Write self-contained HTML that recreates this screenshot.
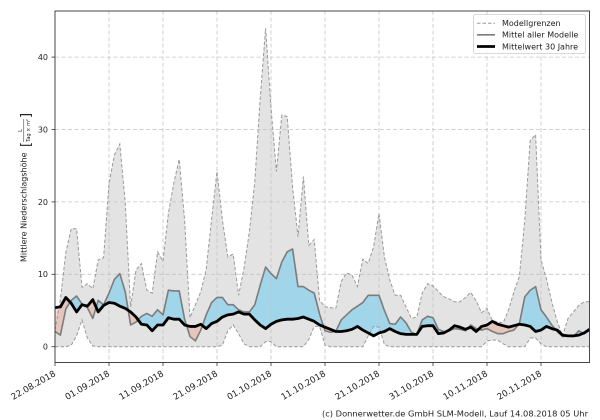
<!DOCTYPE html>
<html><head><meta charset="utf-8"><style>
html,body{margin:0;padding:0;background:#fff;}
svg{display:block;font-family:"DejaVu Sans","Liberation Sans",sans-serif;}
</style></head><body>
<svg width="600" height="420" viewBox="0 0 600 420" xmlns="http://www.w3.org/2000/svg">
<defs>
<clipPath id="ax"><rect x="55" y="11" width="534.6" height="351.5"/></clipPath>
<clipPath id="above"><polygon points="0,5.4 1,5.5 2,6.8 3,6 4,4.8 5,5.8 6,5.6 7,6.5 8,4.8 9,5.7 10,6.1 11,6 12,5.6 13,5.3 14,4.8 15,4.1 16,3.1 17,3 18,2.2 19,3 20,3 21,4 22,3.8 23,3.8 24,3 25,2.8 26,2.8 27,3.1 28,2.5 29,3.2 30,3.5 31,4.1 32,4.4 33,4.5 34,4.8 35,4.5 36,4.5 37,3.7 38,3 39,2.5 40,3.1 41,3.5 42,3.7 43,3.8 44,3.8 45,3.9 46,4.1 47,3.8 48,3.5 49,3 50,2.7 51,2.4 52,2.1 53,2.1 54,2.2 55,2.4 56,2.8 57,2.3 58,1.9 59,1.5 60,1.9 61,2.1 62,2.5 63,2.1 64,1.8 65,1.7 66,1.7 67,1.7 68,2.8 69,2.9 70,2.9 71,1.8 72,1.9 73,2.3 74,2.9 75,2.7 76,2.4 77,2.7 78,2.1 79,2.8 80,3 81,3.5 82,3.1 83,2.9 84,2.7 85,2.9 86,3.1 87,3 88,2.8 89,2.1 90,2.3 91,2.8 92,2.5 93,2.3 94,1.6 95,1.5 96,1.5 97,1.6 98,1.9 99,2.4 99,60 0,60"/></clipPath>
<clipPath id="below"><polygon points="0,5.4 1,5.5 2,6.8 3,6 4,4.8 5,5.8 6,5.6 7,6.5 8,4.8 9,5.7 10,6.1 11,6 12,5.6 13,5.3 14,4.8 15,4.1 16,3.1 17,3 18,2.2 19,3 20,3 21,4 22,3.8 23,3.8 24,3 25,2.8 26,2.8 27,3.1 28,2.5 29,3.2 30,3.5 31,4.1 32,4.4 33,4.5 34,4.8 35,4.5 36,4.5 37,3.7 38,3 39,2.5 40,3.1 41,3.5 42,3.7 43,3.8 44,3.8 45,3.9 46,4.1 47,3.8 48,3.5 49,3 50,2.7 51,2.4 52,2.1 53,2.1 54,2.2 55,2.4 56,2.8 57,2.3 58,1.9 59,1.5 60,1.9 61,2.1 62,2.5 63,2.1 64,1.8 65,1.7 66,1.7 67,1.7 68,2.8 69,2.9 70,2.9 71,1.8 72,1.9 73,2.3 74,2.9 75,2.7 76,2.4 77,2.7 78,2.1 79,2.8 80,3 81,3.5 82,3.1 83,2.9 84,2.7 85,2.9 86,3.1 87,3 88,2.8 89,2.1 90,2.3 91,2.8 92,2.5 93,2.3 94,1.6 95,1.5 96,1.5 97,1.6 98,1.9 99,2.4 99,-10 0,-10"/></clipPath>
</defs>

<g clip-path="url(#ax)">
<g transform="translate(55,346.7) scale(5.4,-7.24)">
<polygon fill="#e3e3e3" points="0,2.3 1,6.5 2,13 3,16.3 4,16.3 5,8.2 6,8.7 7,8 8,12 9,12.3 10,22.5 11,26.5 12,28 13,20 14,5.5 15,10.6 16,11.5 17,7.8 18,7.4 19,13.1 20,11.8 21,18.4 22,22.6 23,25.9 24,17.5 25,4 26,5.8 27,7.6 28,10.7 29,17.6 30,24.2 31,17.5 32,12.4 33,12.8 34,7.1 35,10.8 36,15.9 37,22.8 38,34.3 39,44 40,33 41,24.2 42,32 43,31.8 44,22 45,15.2 46,23.5 47,14 48,14.8 49,6.4 50,5.5 51,5.4 52,5.3 53,9 54,10.2 55,9.9 56,8.3 57,12.1 58,11.5 59,13.8 60,18.4 61,12.4 62,9.2 63,7.1 64,7.1 65,5.5 66,3.9 67,4.1 68,7.4 69,8.7 70,8.4 71,7.6 72,6.9 73,6.6 74,6.2 75,6.2 76,6.8 77,7.5 78,6.3 79,4.7 80,5.3 81,3.6 82,3.4 83,3.3 84,5.1 85,7.6 86,9.7 87,17.5 88,28.5 89,29.3 90,12 91,9.4 92,6.2 93,3.5 94,1.5 95,3.9 96,4.8 97,5.7 98,6.2 99,6.2 99,0 91,0 90,0.4 89,1.2 88,1.2 87,0 84,0 83,0.4 82,0.9 81,0.9 80,0.8 79,0 62,0 61,0.3 60,2.7 59,2.8 58,1.5 57,0 51,0 50,0.2 49,2.8 48,2.8 47,1 46,0 41,0 40,0.7 39,0.7 38,0 36,0 35,0.4 34,1.8 33,3 32,2.2 31,0.2 30,0 8,0 7,0.1 6,1.2 5,3.7 4,1.5 3,0.2 2,0 0,0"/>
<polygon clip-path="url(#above)" fill="rgba(100,200,240,0.52)" points="0,2.1 1,1.6 2,5.2 3,6.4 4,7 5,5.9 6,5.4 7,3.9 8,6.4 9,5.8 10,7.4 11,9.3 12,10.1 13,7.6 14,3 15,3.4 16,4.2 17,4.6 18,4.2 19,5.1 20,4.4 21,7.8 22,7.7 23,7.7 24,3.8 25,1.4 26,0.8 27,2.3 28,4.4 29,6.1 30,6.8 31,6.8 32,5.8 33,5.8 34,5.1 35,4.8 36,4.8 37,5.8 38,8.5 39,11 40,10.1 41,9.4 42,11.7 43,13.1 44,13.5 45,8.3 46,8.3 47,7.8 48,7.4 49,4.5 50,2.2 51,2 52,2.1 53,3.7 54,4.4 55,5.1 56,5.6 57,6.1 58,7.1 59,7.1 60,7.1 61,5 62,3.2 63,3.1 64,4.1 65,3.3 66,2 67,1.7 68,3.7 69,4.2 70,4 71,2.4 72,2.1 73,2.2 74,2.5 75,2.4 76,2.2 77,3 78,2.5 79,2.3 80,2.5 81,2.1 82,1.8 83,1.8 84,2.1 85,2.3 86,3.2 87,6.9 88,7.8 89,8.3 90,5.1 91,4.1 92,3 93,2.1 94,1.4 95,1.5 96,1.4 97,2.2 98,1.8 99,2.3 99,2.4 98,1.9 97,1.6 96,1.5 95,1.5 94,1.6 93,2.3 92,2.5 91,2.8 90,2.3 89,2.1 88,2.8 87,3 86,3.1 85,2.9 84,2.7 83,2.9 82,3.1 81,3.5 80,3 79,2.8 78,2.1 77,2.7 76,2.4 75,2.7 74,2.9 73,2.3 72,1.9 71,1.8 70,2.9 69,2.9 68,2.8 67,1.7 66,1.7 65,1.7 64,1.8 63,2.1 62,2.5 61,2.1 60,1.9 59,1.5 58,1.9 57,2.3 56,2.8 55,2.4 54,2.2 53,2.1 52,2.1 51,2.4 50,2.7 49,3 48,3.5 47,3.8 46,4.1 45,3.9 44,3.8 43,3.8 42,3.7 41,3.5 40,3.1 39,2.5 38,3 37,3.7 36,4.5 35,4.5 34,4.8 33,4.5 32,4.4 31,4.1 30,3.5 29,3.2 28,2.5 27,3.1 26,2.8 25,2.8 24,3 23,3.8 22,3.8 21,4 20,3 19,3 18,2.2 17,3 16,3.1 15,4.1 14,4.8 13,5.3 12,5.6 11,6 10,6.1 9,5.7 8,4.8 7,6.5 6,5.6 5,5.8 4,4.8 3,6 2,6.8 1,5.5 0,5.4"/>
<polygon clip-path="url(#below)" fill="rgba(235,150,125,0.38)" points="0,2.1 1,1.6 2,5.2 3,6.4 4,7 5,5.9 6,5.4 7,3.9 8,6.4 9,5.8 10,7.4 11,9.3 12,10.1 13,7.6 14,3 15,3.4 16,4.2 17,4.6 18,4.2 19,5.1 20,4.4 21,7.8 22,7.7 23,7.7 24,3.8 25,1.4 26,0.8 27,2.3 28,4.4 29,6.1 30,6.8 31,6.8 32,5.8 33,5.8 34,5.1 35,4.8 36,4.8 37,5.8 38,8.5 39,11 40,10.1 41,9.4 42,11.7 43,13.1 44,13.5 45,8.3 46,8.3 47,7.8 48,7.4 49,4.5 50,2.2 51,2 52,2.1 53,3.7 54,4.4 55,5.1 56,5.6 57,6.1 58,7.1 59,7.1 60,7.1 61,5 62,3.2 63,3.1 64,4.1 65,3.3 66,2 67,1.7 68,3.7 69,4.2 70,4 71,2.4 72,2.1 73,2.2 74,2.5 75,2.4 76,2.2 77,3 78,2.5 79,2.3 80,2.5 81,2.1 82,1.8 83,1.8 84,2.1 85,2.3 86,3.2 87,6.9 88,7.8 89,8.3 90,5.1 91,4.1 92,3 93,2.1 94,1.4 95,1.5 96,1.4 97,2.2 98,1.8 99,2.3 99,2.4 98,1.9 97,1.6 96,1.5 95,1.5 94,1.6 93,2.3 92,2.5 91,2.8 90,2.3 89,2.1 88,2.8 87,3 86,3.1 85,2.9 84,2.7 83,2.9 82,3.1 81,3.5 80,3 79,2.8 78,2.1 77,2.7 76,2.4 75,2.7 74,2.9 73,2.3 72,1.9 71,1.8 70,2.9 69,2.9 68,2.8 67,1.7 66,1.7 65,1.7 64,1.8 63,2.1 62,2.5 61,2.1 60,1.9 59,1.5 58,1.9 57,2.3 56,2.8 55,2.4 54,2.2 53,2.1 52,2.1 51,2.4 50,2.7 49,3 48,3.5 47,3.8 46,4.1 45,3.9 44,3.8 43,3.8 42,3.7 41,3.5 40,3.1 39,2.5 38,3 37,3.7 36,4.5 35,4.5 34,4.8 33,4.5 32,4.4 31,4.1 30,3.5 29,3.2 28,2.5 27,3.1 26,2.8 25,2.8 24,3 23,3.8 22,3.8 21,4 20,3 19,3 18,2.2 17,3 16,3.1 15,4.1 14,4.8 13,5.3 12,5.6 11,6 10,6.1 9,5.7 8,4.8 7,6.5 6,5.6 5,5.8 4,4.8 3,6 2,6.8 1,5.5 0,5.4"/>
</g>

<g stroke="#c4c4c4" stroke-width="0.8" stroke-dasharray="4,2.5" fill="none">
<line x1="55" x2="590" y1="274.3" y2="274.3"/>
<line x1="55" x2="590" y1="201.9" y2="201.9"/>
<line x1="55" x2="590" y1="129.5" y2="129.5"/>
<line x1="55" x2="590" y1="57.1" y2="57.1"/>
<line x1="109" x2="109" y1="11" y2="363"/>
<line x1="163" x2="163" y1="11" y2="363"/>
<line x1="217" x2="217" y1="11" y2="363"/>
<line x1="271" x2="271" y1="11" y2="363"/>
<line x1="325" x2="325" y1="11" y2="363"/>
<line x1="379" x2="379" y1="11" y2="363"/>
<line x1="433" x2="433" y1="11" y2="363"/>
<line x1="487" x2="487" y1="11" y2="363"/>
<line x1="541" x2="541" y1="11" y2="363"/>
</g>

<g transform="translate(55,346.7) scale(5.4,-7.24)" fill="none">
<polyline vector-effect="non-scaling-stroke" stroke="#9a9a9a" stroke-width="1" stroke-dasharray="3.5,2" points="0,2.3 1,6.5 2,13 3,16.3 4,16.3 5,8.2 6,8.7 7,8 8,12 9,12.3 10,22.5 11,26.5 12,28 13,20 14,5.5 15,10.6 16,11.5 17,7.8 18,7.4 19,13.1 20,11.8 21,18.4 22,22.6 23,25.9 24,17.5 25,4 26,5.8 27,7.6 28,10.7 29,17.6 30,24.2 31,17.5 32,12.4 33,12.8 34,7.1 35,10.8 36,15.9 37,22.8 38,34.3 39,44 40,33 41,24.2 42,32 43,31.8 44,22 45,15.2 46,23.5 47,14 48,14.8 49,6.4 50,5.5 51,5.4 52,5.3 53,9 54,10.2 55,9.9 56,8.3 57,12.1 58,11.5 59,13.8 60,18.4 61,12.4 62,9.2 63,7.1 64,7.1 65,5.5 66,3.9 67,4.1 68,7.4 69,8.7 70,8.4 71,7.6 72,6.9 73,6.6 74,6.2 75,6.2 76,6.8 77,7.5 78,6.3 79,4.7 80,5.3 81,3.6 82,3.4 83,3.3 84,5.1 85,7.6 86,9.7 87,17.5 88,28.5 89,29.3 90,12 91,9.4 92,6.2 93,3.5 94,1.5 95,3.9 96,4.8 97,5.7 98,6.2 99,6.2"/>
<polyline vector-effect="non-scaling-stroke" stroke="#9a9a9a" stroke-width="1" stroke-dasharray="3.5,2" points="0,0 2,0 3,0.2 4,1.5 5,3.7 6,1.2 7,0.1 8,0 30,0 31,0.2 32,2.2 33,3 34,1.8 35,0.4 36,0 38,0 39,0.7 40,0.7 41,0 46,0 47,1 48,2.8 49,2.8 50,0.2 51,0 57,0 58,1.5 59,2.8 60,2.7 61,0.3 62,0 79,0 80,0.8 81,0.9 82,0.9 83,0.4 84,0 87,0 88,1.2 89,1.2 90,0.4 91,0 99,0"/>
<polyline vector-effect="non-scaling-stroke" stroke="#7c7c7c" stroke-width="1.6" stroke-linejoin="round" points="0,2.1 1,1.6 2,5.2 3,6.4 4,7 5,5.9 6,5.4 7,3.9 8,6.4 9,5.8 10,7.4 11,9.3 12,10.1 13,7.6 14,3 15,3.4 16,4.2 17,4.6 18,4.2 19,5.1 20,4.4 21,7.8 22,7.7 23,7.7 24,3.8 25,1.4 26,0.8 27,2.3 28,4.4 29,6.1 30,6.8 31,6.8 32,5.8 33,5.8 34,5.1 35,4.8 36,4.8 37,5.8 38,8.5 39,11 40,10.1 41,9.4 42,11.7 43,13.1 44,13.5 45,8.3 46,8.3 47,7.8 48,7.4 49,4.5 50,2.2 51,2 52,2.1 53,3.7 54,4.4 55,5.1 56,5.6 57,6.1 58,7.1 59,7.1 60,7.1 61,5 62,3.2 63,3.1 64,4.1 65,3.3 66,2 67,1.7 68,3.7 69,4.2 70,4 71,2.4 72,2.1 73,2.2 74,2.5 75,2.4 76,2.2 77,3 78,2.5 79,2.3 80,2.5 81,2.1 82,1.8 83,1.8 84,2.1 85,2.3 86,3.2 87,6.9 88,7.8 89,8.3 90,5.1 91,4.1 92,3 93,2.1 94,1.4 95,1.5 96,1.4 97,2.2 98,1.8 99,2.3"/>
<polyline vector-effect="non-scaling-stroke" stroke="#000" stroke-width="2.8" stroke-linejoin="round" points="0,5.4 1,5.5 2,6.8 3,6 4,4.8 5,5.8 6,5.6 7,6.5 8,4.8 9,5.7 10,6.1 11,6 12,5.6 13,5.3 14,4.8 15,4.1 16,3.1 17,3 18,2.2 19,3 20,3 21,4 22,3.8 23,3.8 24,3 25,2.8 26,2.8 27,3.1 28,2.5 29,3.2 30,3.5 31,4.1 32,4.4 33,4.5 34,4.8 35,4.5 36,4.5 37,3.7 38,3 39,2.5 40,3.1 41,3.5 42,3.7 43,3.8 44,3.8 45,3.9 46,4.1 47,3.8 48,3.5 49,3 50,2.7 51,2.4 52,2.1 53,2.1 54,2.2 55,2.4 56,2.8 57,2.3 58,1.9 59,1.5 60,1.9 61,2.1 62,2.5 63,2.1 64,1.8 65,1.7 66,1.7 67,1.7 68,2.8 69,2.9 70,2.9 71,1.8 72,1.9 73,2.3 74,2.9 75,2.7 76,2.4 77,2.7 78,2.1 79,2.8 80,3 81,3.5 82,3.1 83,2.9 84,2.7 85,2.9 86,3.1 87,3 88,2.8 89,2.1 90,2.3 91,2.8 92,2.5 93,2.3 94,1.6 95,1.5 96,1.5 97,1.6 98,1.9 99,2.4"/>
</g>
</g>

<rect x="55" y="11" width="534.5" height="351.5" fill="none" stroke="#333" stroke-width="0.9"/>

<g stroke="#333" stroke-width="0.8">
<line x1="51.5" x2="55" y1="346.7" y2="346.7"/>
<line x1="51.5" x2="55" y1="274.3" y2="274.3"/>
<line x1="51.5" x2="55" y1="201.9" y2="201.9"/>
<line x1="51.5" x2="55" y1="129.5" y2="129.5"/>
<line x1="51.5" x2="55" y1="57.1" y2="57.1"/>
<line x1="55" x2="55" y1="362.5" y2="366"/>
<line x1="109" x2="109" y1="362.5" y2="366"/>
<line x1="163" x2="163" y1="362.5" y2="366"/>
<line x1="217" x2="217" y1="362.5" y2="366"/>
<line x1="271" x2="271" y1="362.5" y2="366"/>
<line x1="325" x2="325" y1="362.5" y2="366"/>
<line x1="379" x2="379" y1="362.5" y2="366"/>
<line x1="433" x2="433" y1="362.5" y2="366"/>
<line x1="487" x2="487" y1="362.5" y2="366"/>
<line x1="541" x2="541" y1="362.5" y2="366"/>
</g>
<g font-size="8" fill="#222" text-anchor="end">
<text x="48" y="349.6">0</text>
<text x="48" y="277.2">10</text>
<text x="48" y="204.8">20</text>
<text x="48" y="132.4">30</text>
<text x="48" y="60">40</text>
</g>
<g font-size="8.7" fill="#222" text-anchor="end">
<text transform="translate(56.3,375.3) rotate(-30)">22.08.2018</text>
<text transform="translate(110.3,375.3) rotate(-30)">01.09.2018</text>
<text transform="translate(164.3,375.3) rotate(-30)">11.09.2018</text>
<text transform="translate(218.3,375.3) rotate(-30)">21.09.2018</text>
<text transform="translate(272.3,375.3) rotate(-30)">01.10.2018</text>
<text transform="translate(326.3,375.3) rotate(-30)">11.10.2018</text>
<text transform="translate(380.3,375.3) rotate(-30)">21.10.2018</text>
<text transform="translate(434.3,375.3) rotate(-30)">31.10.2018</text>
<text transform="translate(488.3,375.3) rotate(-30)">10.11.2018</text>
<text transform="translate(542.3,375.3) rotate(-30)">20.11.2018</text>
</g>

<g transform="translate(26.3,262) rotate(-90)" fill="#222">
<text x="0" y="0" font-size="8">Mittlere Niederschlagshöhe</text>
<text x="115" y="3.5" font-size="13">[</text>
<text x="131.5" y="-4.3" font-size="5" text-anchor="middle">L</text>
<line x1="120" x2="143" y1="-2.5" y2="-2.5" stroke="#222" stroke-width="0.5"/>
<text x="131.5" y="3.6" font-size="5" text-anchor="middle">Tag × m²</text>
<text x="144" y="3.5" font-size="13">]</text>
</g>

<rect x="473.5" y="14.5" width="112" height="39" rx="2" fill="rgba(255,255,255,0.85)" stroke="#cccccc" stroke-width="0.8"/>
<line x1="477" x2="495" y1="23.3" y2="23.3" stroke="#9a9a9a" stroke-width="1" stroke-dasharray="3.5,2"/>
<line x1="477" x2="495" y1="34.8" y2="34.8" stroke="#7c7c7c" stroke-width="1.6"/>
<line x1="477" x2="495" y1="46.5" y2="46.5" stroke="#000" stroke-width="2.8"/>
<g font-size="8" fill="#222">
<text x="502" y="26.2">Modellgrenzen</text>
<text x="502" y="37.7">Mittel aller Modelle</text>
<text x="502" y="49.4">Mittelwert 30 Jahre</text>
</g>

<text x="322" y="416.5" font-size="8.3" fill="#222" textLength="266" lengthAdjust="spacingAndGlyphs">(c) Donnerwetter.de GmbH SLM-Modell, Lauf 14.08.2018 05 Uhr</text>
</svg>
</body></html>
